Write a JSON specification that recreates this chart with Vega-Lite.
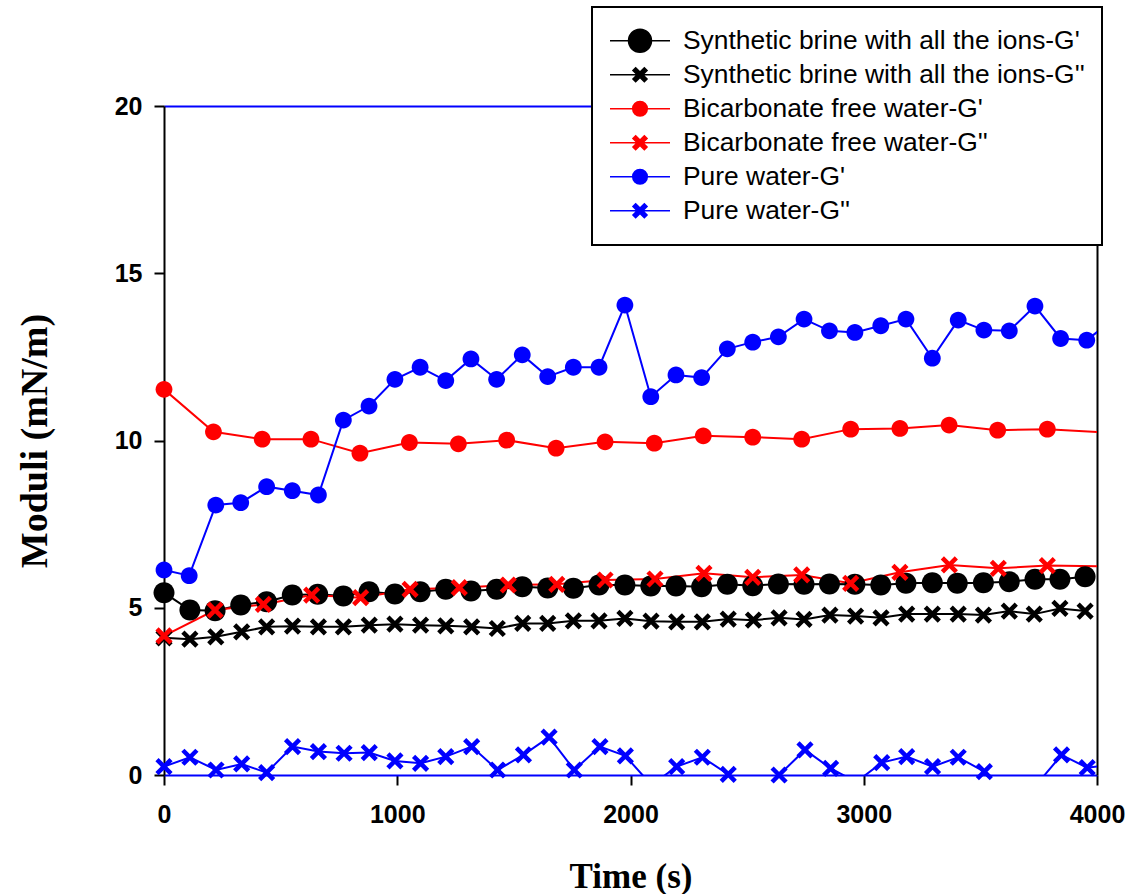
{
  "$schema": "https://vega.github.io/schema/vega-lite/v6.json",
  "width": 933,
  "height": 669,
  "autosize": {"type": "none"},
  "padding": {"left": 164, "top": 106, "right": 31, "bottom": 119},
  "background": "white",
  "config": {"view": {"stroke": null}},
  "data": {"values": [
    {"series": "Synthetic brine with all the ions-G'", "t": 0, "v": 5.45},
    {"series": "Synthetic brine with all the ions-G'", "t": 111, "v": 4.93},
    {"series": "Synthetic brine with all the ions-G'", "t": 219, "v": 4.91},
    {"series": "Synthetic brine with all the ions-G'", "t": 329, "v": 5.08},
    {"series": "Synthetic brine with all the ions-G'", "t": 440, "v": 5.18},
    {"series": "Synthetic brine with all the ions-G'", "t": 550, "v": 5.38},
    {"series": "Synthetic brine with all the ions-G'", "t": 659, "v": 5.40},
    {"series": "Synthetic brine with all the ions-G'", "t": 769, "v": 5.35},
    {"series": "Synthetic brine with all the ions-G'", "t": 879, "v": 5.48},
    {"series": "Synthetic brine with all the ions-G'", "t": 990, "v": 5.41},
    {"series": "Synthetic brine with all the ions-G'", "t": 1098, "v": 5.48},
    {"series": "Synthetic brine with all the ions-G'", "t": 1208, "v": 5.55},
    {"series": "Synthetic brine with all the ions-G'", "t": 1316, "v": 5.50},
    {"series": "Synthetic brine with all the ions-G'", "t": 1426, "v": 5.55},
    {"series": "Synthetic brine with all the ions-G'", "t": 1536, "v": 5.63},
    {"series": "Synthetic brine with all the ions-G'", "t": 1645, "v": 5.59},
    {"series": "Synthetic brine with all the ions-G'", "t": 1755, "v": 5.58},
    {"series": "Synthetic brine with all the ions-G'", "t": 1865, "v": 5.68},
    {"series": "Synthetic brine with all the ions-G'", "t": 1976, "v": 5.68},
    {"series": "Synthetic brine with all the ions-G'", "t": 2087, "v": 5.65},
    {"series": "Synthetic brine with all the ions-G'", "t": 2195, "v": 5.65},
    {"series": "Synthetic brine with all the ions-G'", "t": 2305, "v": 5.63},
    {"series": "Synthetic brine with all the ions-G'", "t": 2415, "v": 5.70},
    {"series": "Synthetic brine with all the ions-G'", "t": 2524, "v": 5.66},
    {"series": "Synthetic brine with all the ions-G'", "t": 2634, "v": 5.71},
    {"series": "Synthetic brine with all the ions-G'", "t": 2744, "v": 5.70},
    {"series": "Synthetic brine with all the ions-G'", "t": 2853, "v": 5.71},
    {"series": "Synthetic brine with all the ions-G'", "t": 2962, "v": 5.70},
    {"series": "Synthetic brine with all the ions-G'", "t": 3073, "v": 5.68},
    {"series": "Synthetic brine with all the ions-G'", "t": 3181, "v": 5.73},
    {"series": "Synthetic brine with all the ions-G'", "t": 3294, "v": 5.75},
    {"series": "Synthetic brine with all the ions-G'", "t": 3401, "v": 5.73},
    {"series": "Synthetic brine with all the ions-G'", "t": 3513, "v": 5.75},
    {"series": "Synthetic brine with all the ions-G'", "t": 3624, "v": 5.78},
    {"series": "Synthetic brine with all the ions-G'", "t": 3734, "v": 5.85},
    {"series": "Synthetic brine with all the ions-G'", "t": 3841, "v": 5.85},
    {"series": "Synthetic brine with all the ions-G'", "t": 3949, "v": 5.93},

    {"series": "Synthetic brine with all the ions-G''", "t": 0, "v": 4.10},
    {"series": "Synthetic brine with all the ions-G''", "t": 111, "v": 4.06},
    {"series": "Synthetic brine with all the ions-G''", "t": 222, "v": 4.13},
    {"series": "Synthetic brine with all the ions-G''", "t": 333, "v": 4.28},
    {"series": "Synthetic brine with all the ions-G''", "t": 440, "v": 4.43},
    {"series": "Synthetic brine with all the ions-G''", "t": 551, "v": 4.45},
    {"series": "Synthetic brine with all the ions-G''", "t": 662, "v": 4.43},
    {"series": "Synthetic brine with all the ions-G''", "t": 769, "v": 4.43},
    {"series": "Synthetic brine with all the ions-G''", "t": 880, "v": 4.48},
    {"series": "Synthetic brine with all the ions-G''", "t": 990, "v": 4.51},
    {"series": "Synthetic brine with all the ions-G''", "t": 1100, "v": 4.48},
    {"series": "Synthetic brine with all the ions-G''", "t": 1208, "v": 4.46},
    {"series": "Synthetic brine with all the ions-G''", "t": 1319, "v": 4.43},
    {"series": "Synthetic brine with all the ions-G''", "t": 1429, "v": 4.38},
    {"series": "Synthetic brine with all the ions-G''", "t": 1538, "v": 4.53},
    {"series": "Synthetic brine with all the ions-G''", "t": 1645, "v": 4.53},
    {"series": "Synthetic brine with all the ions-G''", "t": 1755, "v": 4.61},
    {"series": "Synthetic brine with all the ions-G''", "t": 1865, "v": 4.61},
    {"series": "Synthetic brine with all the ions-G''", "t": 1976, "v": 4.68},
    {"series": "Synthetic brine with all the ions-G''", "t": 2088, "v": 4.60},
    {"series": "Synthetic brine with all the ions-G''", "t": 2198, "v": 4.58},
    {"series": "Synthetic brine with all the ions-G''", "t": 2308, "v": 4.58},
    {"series": "Synthetic brine with all the ions-G''", "t": 2419, "v": 4.66},
    {"series": "Synthetic brine with all the ions-G''", "t": 2527, "v": 4.63},
    {"series": "Synthetic brine with all the ions-G''", "t": 2637, "v": 4.70},
    {"series": "Synthetic brine with all the ions-G''", "t": 2744, "v": 4.65},
    {"series": "Synthetic brine with all the ions-G''", "t": 2855, "v": 4.78},
    {"series": "Synthetic brine with all the ions-G''", "t": 2965, "v": 4.75},
    {"series": "Synthetic brine with all the ions-G''", "t": 3074, "v": 4.70},
    {"series": "Synthetic brine with all the ions-G''", "t": 3184, "v": 4.81},
    {"series": "Synthetic brine with all the ions-G''", "t": 3294, "v": 4.81},
    {"series": "Synthetic brine with all the ions-G''", "t": 3405, "v": 4.81},
    {"series": "Synthetic brine with all the ions-G''", "t": 3513, "v": 4.78},
    {"series": "Synthetic brine with all the ions-G''", "t": 3624, "v": 4.90},
    {"series": "Synthetic brine with all the ions-G''", "t": 3731, "v": 4.81},
    {"series": "Synthetic brine with all the ions-G''", "t": 3841, "v": 4.98},
    {"series": "Synthetic brine with all the ions-G''", "t": 3949, "v": 4.90},

    {"series": "Bicarbonate free water-G'", "t": 0, "v": 11.53},
    {"series": "Bicarbonate free water-G'", "t": 212, "v": 10.26},
    {"series": "Bicarbonate free water-G'", "t": 421, "v": 10.04},
    {"series": "Bicarbonate free water-G'", "t": 630, "v": 10.04},
    {"series": "Bicarbonate free water-G'", "t": 840, "v": 9.62},
    {"series": "Bicarbonate free water-G'", "t": 1052, "v": 9.94},
    {"series": "Bicarbonate free water-G'", "t": 1262, "v": 9.90},
    {"series": "Bicarbonate free water-G'", "t": 1469, "v": 10.01},
    {"series": "Bicarbonate free water-G'", "t": 1681, "v": 9.77},
    {"series": "Bicarbonate free water-G'", "t": 1891, "v": 9.96},
    {"series": "Bicarbonate free water-G'", "t": 2102, "v": 9.92},
    {"series": "Bicarbonate free water-G'", "t": 2312, "v": 10.14},
    {"series": "Bicarbonate free water-G'", "t": 2524, "v": 10.10},
    {"series": "Bicarbonate free water-G'", "t": 2734, "v": 10.04},
    {"series": "Bicarbonate free water-G'", "t": 2944, "v": 10.34},
    {"series": "Bicarbonate free water-G'", "t": 3155, "v": 10.36},
    {"series": "Bicarbonate free water-G'", "t": 3366, "v": 10.46},
    {"series": "Bicarbonate free water-G'", "t": 3574, "v": 10.31},
    {"series": "Bicarbonate free water-G'", "t": 3787, "v": 10.34},
    {"series": "Bicarbonate free water-G'", "t": 4200, "v": 10.17},

    {"series": "Bicarbonate free water-G''", "t": 0, "v": 4.16},
    {"series": "Bicarbonate free water-G''", "t": 219, "v": 4.93},
    {"series": "Bicarbonate free water-G''", "t": 426, "v": 5.10},
    {"series": "Bicarbonate free water-G''", "t": 633, "v": 5.38},
    {"series": "Bicarbonate free water-G''", "t": 843, "v": 5.30},
    {"series": "Bicarbonate free water-G''", "t": 1055, "v": 5.55},
    {"series": "Bicarbonate free water-G''", "t": 1266, "v": 5.60},
    {"series": "Bicarbonate free water-G''", "t": 1476, "v": 5.68},
    {"series": "Bicarbonate free water-G''", "t": 1684, "v": 5.70},
    {"series": "Bicarbonate free water-G''", "t": 1891, "v": 5.83},
    {"series": "Bicarbonate free water-G''", "t": 2105, "v": 5.86},
    {"series": "Bicarbonate free water-G''", "t": 2315, "v": 6.03},
    {"series": "Bicarbonate free water-G''", "t": 2524, "v": 5.91},
    {"series": "Bicarbonate free water-G''", "t": 2734, "v": 5.98},
    {"series": "Bicarbonate free water-G''", "t": 2944, "v": 5.73},
    {"series": "Bicarbonate free water-G''", "t": 3155, "v": 6.06},
    {"series": "Bicarbonate free water-G''", "t": 3367, "v": 6.28},
    {"series": "Bicarbonate free water-G''", "t": 3577, "v": 6.18},
    {"series": "Bicarbonate free water-G''", "t": 3787, "v": 6.26},
    {"series": "Bicarbonate free water-G''", "t": 4200, "v": 6.22},

    {"series": "Pure water-G'", "t": 0, "v": 6.13},
    {"series": "Pure water-G'", "t": 108, "v": 5.96},
    {"series": "Pure water-G'", "t": 222, "v": 8.07},
    {"series": "Pure water-G'", "t": 329, "v": 8.14},
    {"series": "Pure water-G'", "t": 440, "v": 8.62},
    {"series": "Pure water-G'", "t": 550, "v": 8.50},
    {"series": "Pure water-G'", "t": 662, "v": 8.37},
    {"series": "Pure water-G'", "t": 769, "v": 10.61},
    {"series": "Pure water-G'", "t": 879, "v": 11.03},
    {"series": "Pure water-G'", "t": 990, "v": 11.83},
    {"series": "Pure water-G'", "t": 1098, "v": 12.19},
    {"series": "Pure water-G'", "t": 1208, "v": 11.79},
    {"series": "Pure water-G'", "t": 1316, "v": 12.44},
    {"series": "Pure water-G'", "t": 1426, "v": 11.83},
    {"series": "Pure water-G'", "t": 1536, "v": 12.56},
    {"series": "Pure water-G'", "t": 1645, "v": 11.91},
    {"series": "Pure water-G'", "t": 1755, "v": 12.19},
    {"series": "Pure water-G'", "t": 1865, "v": 12.19},
    {"series": "Pure water-G'", "t": 1976, "v": 14.05},
    {"series": "Pure water-G'", "t": 2087, "v": 11.31},
    {"series": "Pure water-G'", "t": 2195, "v": 11.96},
    {"series": "Pure water-G'", "t": 2305, "v": 11.88},
    {"series": "Pure water-G'", "t": 2415, "v": 12.74},
    {"series": "Pure water-G'", "t": 2524, "v": 12.94},
    {"series": "Pure water-G'", "t": 2634, "v": 13.10},
    {"series": "Pure water-G'", "t": 2744, "v": 13.63},
    {"series": "Pure water-G'", "t": 2853, "v": 13.28},
    {"series": "Pure water-G'", "t": 2962, "v": 13.23},
    {"series": "Pure water-G'", "t": 3073, "v": 13.43},
    {"series": "Pure water-G'", "t": 3181, "v": 13.63},
    {"series": "Pure water-G'", "t": 3294, "v": 12.46},
    {"series": "Pure water-G'", "t": 3405, "v": 13.60},
    {"series": "Pure water-G'", "t": 3515, "v": 13.30},
    {"series": "Pure water-G'", "t": 3624, "v": 13.28},
    {"series": "Pure water-G'", "t": 3734, "v": 14.02},
    {"series": "Pure water-G'", "t": 3844, "v": 13.05},
    {"series": "Pure water-G'", "t": 3956, "v": 13.00},
    {"series": "Pure water-G'", "t": 4066, "v": 13.60},

    {"series": "Pure water-G''", "t": 0, "v": 0.25},
    {"series": "Pure water-G''", "t": 111, "v": 0.53},
    {"series": "Pure water-G''", "t": 223, "v": 0.15},
    {"series": "Pure water-G''", "t": 333, "v": 0.33},
    {"series": "Pure water-G''", "t": 440, "v": 0.07},
    {"series": "Pure water-G''", "t": 551, "v": 0.85},
    {"series": "Pure water-G''", "t": 662, "v": 0.70},
    {"series": "Pure water-G''", "t": 772, "v": 0.65},
    {"series": "Pure water-G''", "t": 880, "v": 0.67},
    {"series": "Pure water-G''", "t": 990, "v": 0.42},
    {"series": "Pure water-G''", "t": 1100, "v": 0.35},
    {"series": "Pure water-G''", "t": 1208, "v": 0.55},
    {"series": "Pure water-G''", "t": 1319, "v": 0.85},
    {"series": "Pure water-G''", "t": 1430, "v": 0.15},
    {"series": "Pure water-G''", "t": 1541, "v": 0.60},
    {"series": "Pure water-G''", "t": 1651, "v": 1.13},
    {"series": "Pure water-G''", "t": 1759, "v": 0.15},
    {"series": "Pure water-G''", "t": 1869, "v": 0.85},
    {"series": "Pure water-G''", "t": 1978, "v": 0.57},
    {"series": "Pure water-G''", "t": 2090, "v": -0.30},
    {"series": "Pure water-G''", "t": 2198, "v": 0.25},
    {"series": "Pure water-G''", "t": 2308, "v": 0.53},
    {"series": "Pure water-G''", "t": 2419, "v": 0.02},
    {"series": "Pure water-G''", "t": 2527, "v": -0.40},
    {"series": "Pure water-G''", "t": 2637, "v": 0.00},
    {"series": "Pure water-G''", "t": 2748, "v": 0.75},
    {"series": "Pure water-G''", "t": 2858, "v": 0.20},
    {"series": "Pure water-G''", "t": 2968, "v": -0.21},
    {"series": "Pure water-G''", "t": 3077, "v": 0.37},
    {"series": "Pure water-G''", "t": 3184, "v": 0.55},
    {"series": "Pure water-G''", "t": 3295, "v": 0.25},
    {"series": "Pure water-G''", "t": 3405, "v": 0.53},
    {"series": "Pure water-G''", "t": 3517, "v": 0.10},
    {"series": "Pure water-G''", "t": 3627, "v": -0.50},
    {"series": "Pure water-G''", "t": 3737, "v": -0.32},
    {"series": "Pure water-G''", "t": 3848, "v": 0.60},
    {"series": "Pure water-G''", "t": 3958, "v": 0.22},
    {"series": "Pure water-G''", "t": 4068, "v": 0.30}
  ]},
  "resolve": {"axis": {"x": "independent", "y": "independent"}},
  "encoding": {
    "color": {
      "field": "series", "type": "nominal",
      "scale": {
        "domain": ["Synthetic brine with all the ions-G'", "Synthetic brine with all the ions-G''", "Bicarbonate free water-G'", "Bicarbonate free water-G''", "Pure water-G'", "Pure water-G''"],
        "range": ["#000000", "#000000", "#FF0000", "#FF0000", "#0000FF", "#0000FF"]
      },
      "legend": {
        "title": null,
        "orient": "none",
        "legendX": 428,
        "legendY": -99,
        "padding": 17,
        "strokeColor": "black",
        "fillColor": "white",
        "symbolSize": 3600,
        "clipHeight": 33.5,
        "rowPadding": 0,
        "labelOffset": 12,
        "labelFont": "Liberation Sans",
        "labelFontSize": 26.4,
        "labelColor": "black",
        "labelLimit": 600,
        "encode": {
          "legend": {"update": {"strokeWidth": {"value": 2}}},
          "symbols": {
            "update": {
              "shape": {"signal": "indexof(datum.value, \"G''\") >= 0 ? 'M-1,0H1M-0.145,-0.235L0.235,0.145L0.145,0.235L-0.235,-0.145ZM-0.145,0.235L-0.235,0.145L0.145,-0.235L0.235,-0.145Z' : (indexof(datum.value, 'brine') >= 0 ? 'M-1,0H1M-0.383,0A0.383,0.383,0,1,1,0.383,0A0.383,0.383,0,1,1,-0.383,0Z' : 'M-1,0H1M-0.243,0A0.243,0.243,0,1,1,0.243,0A0.243,0.243,0,1,1,-0.243,0Z')"},
              "size": {"value": 3600},
              "fill": {"scale": "color", "field": "value"},
              "stroke": {"scale": "color", "field": "value"},
              "strokeWidth": {"value": 1.5},
              "opacity": {"value": 1}
            }
          }
        }
      }
    }
  },
  "layer": [
    {
      "mark": {"type": "line", "clip": true, "strokeWidth": 2},
      "encoding": {
        "x": {
          "field": "t", "type": "quantitative",
          "scale": {"domain": [0, 4000], "nice": false, "zero": false},
          "axis": {
            "orient": "bottom",
            "title": "Time (s)",
            "values": [0, 1000, 2000, 3000, 4000],
            "format": "d",
            "grid": false,
            "domainColor": "#0000FF", "domainWidth": 2,
            "tickColor": "black", "tickWidth": 2, "tickSize": 10,
            "labelFont": "Liberation Sans", "labelFontSize": 25, "labelFontWeight": "bold",
            "labelColor": "black", "labelPadding": 17, "labelFlush": false, "labelOverlap": false,
            "titleFont": "Liberation Serif", "titleFontSize": 35, "titleFontWeight": "bold",
            "titleColor": "black", "titlePadding": 32
          }
        },
        "y": {
          "field": "v", "type": "quantitative",
          "scale": {"domain": [0, 20], "nice": false, "zero": false},
          "axis": {
            "orient": "left",
            "title": "Moduli (mN/m)",
            "values": [0, 5, 10, 15, 20],
            "grid": false,
            "domainColor": "black", "domainWidth": 2,
            "tickColor": "black", "tickWidth": 2, "tickSize": 10,
            "labelFont": "Liberation Sans", "labelFontSize": 25, "labelFontWeight": "bold",
            "labelColor": "black", "labelPadding": 12, "labelOverlap": false,
            "titleFont": "Liberation Serif", "titleFontSize": 38, "titleFontWeight": "bold",
            "titleColor": "black", "titlePadding": 60
          }
        },
        "order": {"field": "t", "type": "quantitative"}
      }
    },
    {
      "transform": [
        {"filter": {"field": "series", "oneOf": ["Synthetic brine with all the ions-G'"]}},
        {"filter": "datum.v >= 0 && datum.t <= 4000"}
      ],
      "mark": {"type": "point", "filled": true, "size": 400, "opacity": 1, "strokeWidth": 0,
               "shape": "M-1.05,0A1.05,1.05,0,1,1,1.05,0A1.05,1.05,0,1,1,-1.05,0Z"},
      "encoding": {
        "x": {
          "field": "t", "type": "quantitative",
          "axis": {"orient": "top", "title": null, "labels": false, "ticks": false, "grid": false, "domainColor": "#0000FF", "domainWidth": 2}
        },
        "y": {
          "field": "v", "type": "quantitative",
          "axis": {"orient": "right", "title": null, "labels": false, "ticks": false, "grid": false, "domainColor": "black", "domainWidth": 2}
        }
      }
    },
    {
      "transform": [
        {"filter": {"field": "series", "oneOf": ["Bicarbonate free water-G'", "Pure water-G'"]}},
        {"filter": "datum.v >= 0 && datum.t <= 4000"}
      ],
      "mark": {"type": "point", "filled": true, "size": 400, "opacity": 1, "strokeWidth": 0,
               "shape": "M-0.84,0A0.84,0.84,0,1,1,0.84,0A0.84,0.84,0,1,1,-0.84,0Z"},
      "encoding": {
        "x": {"field": "t", "type": "quantitative", "axis": null},
        "y": {"field": "v", "type": "quantitative", "axis": null}
      }
    },
    {
      "transform": [
        {"filter": {"field": "series", "oneOf": ["Synthetic brine with all the ions-G''", "Bicarbonate free water-G''", "Pure water-G''"]}},
        {"filter": "datum.v >= 0 && datum.t <= 4000"}
      ],
      "mark": {"type": "point", "filled": true, "size": 400, "opacity": 1, "strokeWidth": 0,
               "shape": "M-0.54,-0.86L0.86,0.54L0.54,0.86L-0.86,-0.54ZM-0.54,0.86L-0.86,0.54L0.54,-0.86L0.86,-0.54Z"},
      "encoding": {
        "x": {"field": "t", "type": "quantitative", "axis": null},
        "y": {"field": "v", "type": "quantitative", "axis": null}
      }
    }
  ]
}
